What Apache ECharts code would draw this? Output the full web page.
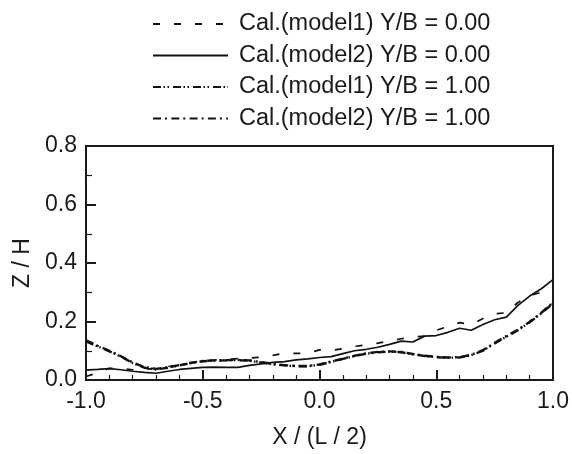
<!DOCTYPE html>
<html>
<head>
<meta charset="utf-8">
<script src="https://cdn.jsdelivr.net/npm/echarts@6/dist/echarts.min.js"></script>
<style>html,body{margin:0;padding:0;background:#fff;}#c{width:572px;height:454px;}</style>
</head>
<body>
<div id="c"></div>
<script>
// Data
const X = [-1.00,-0.95,-0.90,-0.85,-0.80,-0.75,-0.70,-0.65,-0.60,-0.55,-0.50,-0.45,-0.40,-0.35,-0.30,-0.25,-0.20,-0.15,-0.10,-0.05,0.00,0.05,0.10,0.15,0.20,0.25,0.30,0.35,0.40,0.45,0.50,0.55,0.60,0.65,0.70,0.75,0.80,0.85,0.90,0.95,1.00];
const model1_YB0 = [0.012,0.025,0.040,0.040,0.035,0.036,0.040,0.046,0.051,0.058,0.066,0.068,0.071,0.073,0.075,0.078,0.084,0.092,0.091,0.092,0.103,0.101,0.107,0.115,0.120,0.126,0.133,0.141,0.147,0.150,0.170,0.183,0.196,0.190,0.210,0.226,0.230,0.265,0.288,0.300,0.318];
const model2_YB0 = [0.034,0.036,0.039,0.035,0.030,0.026,0.023,0.030,0.036,0.040,0.043,0.044,0.043,0.043,0.050,0.055,0.060,0.063,0.069,0.072,0.077,0.080,0.090,0.100,0.105,0.112,0.122,0.133,0.130,0.150,0.152,0.163,0.177,0.170,0.190,0.206,0.215,0.255,0.287,0.312,0.343];
const model1_YB1 = [0.132,0.115,0.098,0.080,0.058,0.042,0.036,0.042,0.050,0.058,0.064,0.066,0.067,0.068,0.066,0.060,0.054,0.050,0.047,0.047,0.052,0.062,0.072,0.082,0.090,0.095,0.097,0.095,0.088,0.082,0.078,0.076,0.077,0.085,0.100,0.125,0.148,0.170,0.197,0.228,0.262];
const model2_YB1 = [0.136,0.117,0.100,0.081,0.060,0.044,0.038,0.043,0.051,0.059,0.065,0.067,0.068,0.069,0.067,0.061,0.055,0.051,0.048,0.048,0.053,0.063,0.073,0.083,0.091,0.096,0.098,0.096,0.089,0.083,0.079,0.077,0.078,0.086,0.102,0.127,0.150,0.172,0.199,0.230,0.265];
const seriesNames = ['Cal.(model1) Y/B = 0.00','Cal.(model2) Y/B = 0.00','Cal.(model1) Y/B = 1.00','Cal.(model2) Y/B = 1.00'];
const xTitle = 'X / (L / 2)';
const yTitle = 'Z / H';

const FONT = '"Liberation Sans", Arial, sans-serif';
const INK = '#1a1a1a';
const pairs = ys => X.map((x, i) => [x, ys[i]]);
const dashes = [[7, 14], 'solid', [8, 2.5, 1.5, 2.5, 1.5, 4], [8, 4, 2, 4.3]];
const allY = [model1_YB0, model2_YB0, model1_YB1, model2_YB1];

const chart = echarts.init(document.getElementById('c'), null, {renderer: 'canvas'});
chart.setOption({
  animation: false,
  backgroundColor: '#fff',
  textStyle: {fontFamily: FONT},
  grid: {left: 86, right: 18, top: 146, bottom: 67, show: true, borderColor: INK, borderWidth: 2, backgroundColor: 'transparent'},
  legend: {
    orient: 'vertical', left: 147, top: 7, itemWidth: 75, itemHeight: 14, itemGap: 7.5,
    itemStyle: {color: 'transparent', borderWidth: 0, opacity: 0},
    lineStyle: {width: 2},
    textStyle: {fontFamily: FONT, fontSize: 23.5, color: INK, lineHeight: 24, padding: [0, 0, 0, 6]},
    data: seriesNames
  },
  xAxis: {
    type: 'value', min: -1, max: 1, interval: 0.5,
    name: xTitle, nameLocation: 'middle', nameGap: 46,
    nameTextStyle: {fontFamily: FONT, fontSize: 23, color: INK},
    axisLine: {show: true, onZero: false, lineStyle: {color: INK, width: 2}},
    axisTick: {show: true, inside: true, length: 10, lineStyle: {color: INK, width: 2}},
    minorTick: {show: true, splitNumber: 5, length: 5, lineStyle: {color: INK, width: 1.2}},
    axisLabel: {fontFamily: FONT, fontSize: 23, color: INK, margin: 10, formatter: v => v.toFixed(1)},
    splitLine: {show: false}
  },
  yAxis: {
    type: 'value', min: 0, max: 0.8, interval: 0.2,
    name: yTitle, nameLocation: 'middle', nameGap: 45, nameRotate: 90,
    nameTextStyle: {fontFamily: FONT, fontSize: 23, color: INK},
    axisLine: {show: true, onZero: false, lineStyle: {color: INK, width: 2}},
    axisTick: {show: true, inside: true, length: 10, lineStyle: {color: INK, width: 2}},
    minorTick: {show: true, splitNumber: 2, length: 6, lineStyle: {color: INK, width: 1.2}},
    axisLabel: {fontFamily: FONT, fontSize: 23, color: INK, margin: 9, formatter: v => v.toFixed(1)},
    splitLine: {show: false}
  },
  series: seriesNames.map((n, i) => ({
    name: n, type: 'line', data: pairs(allY[i]),
    symbol: 'none', showSymbol: false, smooth: false,
    lineStyle: {color: '#111', width: i >= 2 ? 2.4 : 1.7, type: dashes[i]},
    itemStyle: {color: '#111'}
  }))
});
</script>
</body>
</html>
